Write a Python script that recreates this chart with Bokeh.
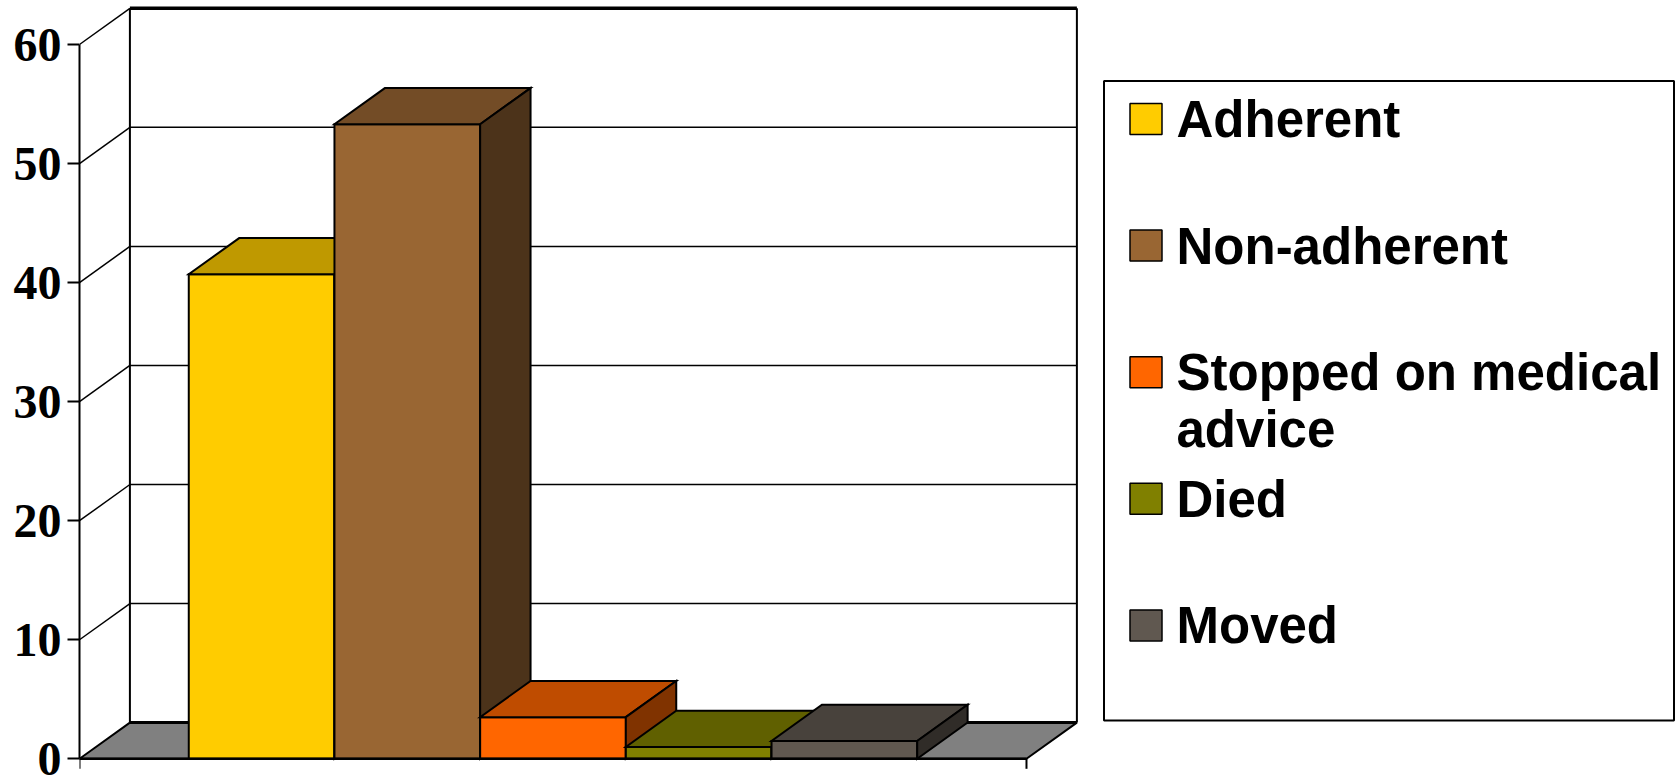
from bokeh.plotting import figure
from bokeh.models import Range1d, LinearAxis, FixedTicker, ColumnDataSource
from bokeh.embed import file_html
from bokeh.resources import INLINE
from bokeh.core.properties import value

# ---- data -------------------------------------------------------------
categories = ["Adherent", "Non-adherent", "Stopped on medical advice", "Died", "Moved"]
percent = [40.7, 53.3, 3.5, 1.0, 1.5]
legend_lines = [["Adherent"], ["Non-adherent"], ["Stopped on medical", "advice"], ["Died"], ["Moved"]]
y_ticks = [0, 10, 20, 30, 40, 50, 60]
face_colors = ["#FFCC00", "#996633", "#FF6600", "#808000", "#605850"]

# ---- geometry ---------------------------------------------------------
W, H = 1679, 778
LEFT = 79                 # width of the y-axis panel
Y0_PX = 758.3             # pixel row of value 0
PX_PER_VAL = 11.905       # pixels per percentage point
PX_PER_BAR = 145.69       # pixels per bar width
GAP = 0.75                # floor margin either side of the bar cluster (bar widths)
DX, DY = 0.346, 3.04      # oblique depth offset (bar widths, value units)


def shade(hex_color, k):
    r, g, b = (int(hex_color[i:i + 2], 16) for i in (1, 3, 5))
    return "#%02X%02X%02X" % (round(r * k), round(g * k), round(b * k))


# value -> pixel row: Y0_PX - v * PX_PER_VAL
x_range = Range1d(-GAP, -GAP + (W - LEFT) / PX_PER_BAR)
y_range = Range1d(-(H - Y0_PX) / PX_PER_VAL, Y0_PX / PX_PER_VAL)

p = figure(width=W, height=H, x_range=x_range, y_range=y_range,
           x_axis_type=None, y_axis_type=None,
           output_backend="svg", toolbar_location=None,
           min_border_left=LEFT, min_border_right=0,
           min_border_top=0, min_border_bottom=0,
           outline_line_color=None, background_fill_color="white",
           border_fill_color="white")

# pixel-based ranges for the legend box
p.extra_x_ranges = {"px": Range1d(LEFT, W)}
p.extra_y_ranges = {"py": Range1d(H, 0)}

n = len(categories)
x_left, x_right = -GAP, n + GAP
bx0, bx1 = x_left + DX, x_right + DX
top_val = max(y_ticks)

# side wall diagonals (10..60)
side_vals = y_ticks[1:]
p.segment(x0=[x_left] * len(side_vals), y0=side_vals,
          x1=[bx0] * len(side_vals), y1=[v + DY for v in side_vals],
          line_color="black", line_width=1.5)

# back wall gridlines (10..50)
grid_vals = y_ticks[1:-1]
p.segment(x0=[bx0] * len(grid_vals), y0=[v + DY for v in grid_vals],
          x1=[bx1] * len(grid_vals), y1=[v + DY for v in grid_vals],
          line_color="black", line_width=1.5)

# back wall edges
p.segment(x0=[bx0, bx1], y0=[DY, DY], x1=[bx0, bx1], y1=[top_val + DY] * 2,
          line_color="black", line_width=2)
p.line([bx0, bx1], [top_val + DY, top_val + DY], line_color="black", line_width=3.5)

# floor
p.patch([x_left, x_right, bx1, bx0], [0, 0, DY, DY],
        fill_color="#808080", line_color="black", line_width=2)
p.line([bx0, bx1], [DY, DY], line_color="black", line_width=3)

# 3-D bars: front, top and right faces, drawn left to right
xs, ys, fills = [], [], []
for i, (v, c) in enumerate(zip(percent, face_colors)):
    l, r = i, i + 1
    xs.append([l, r, r, l]);                 ys.append([0, 0, v, v]);                 fills.append(c)
    xs.append([l, r, r + DX, l + DX]);       ys.append([v, v, v + DY, v + DY]);       fills.append(shade(c, 0.75))
    xs.append([r, r + DX, r + DX, r]);       ys.append([0, DY, v + DY, v]);           fills.append(shade(c, 0.5))
src = ColumnDataSource(dict(xs=xs, ys=ys, fill=fills))
p.patches("xs", "ys", source=src, fill_color="fill", line_color="black",
          line_width=2, line_join="miter")

# category axis line and its end ticks
tick_len = 10 / PX_PER_VAL
p.line([x_left, x_right], [0, 0], line_color="black", line_width=2.5)
p.segment(x0=[x_left, x_right], y0=[0, 0], x1=[x_left, x_right], y1=[-tick_len] * 2,
          line_color="black", line_width=2)

# value axis
yaxis = LinearAxis(ticker=FixedTicker(ticks=y_ticks), bounds=(0, top_val))
yaxis.axis_line_width = 2
yaxis.major_tick_line_width = 2
yaxis.major_tick_out = 12
yaxis.major_tick_in = 0
yaxis.minor_tick_line_color = None
yaxis.major_label_standoff = 6
yaxis.major_label_text_font = "Liberation Serif"
yaxis.major_label_text_font_style = "bold"
yaxis.major_label_text_font_size = "48px"
yaxis.major_label_text_color = "black"
p.add_layout(yaxis, "left")

# legend
p.quad(left=[1103.5], right=[1673.5], top=[80.5], bottom=[720],
       fill_color="white", line_color="black", line_width=2,
       x_range_name="px", y_range_name="py")
sw_top0, pitch, line_gap = 103.0, 126.6, 56.6
sw_l, sw_r, tx = 1129.5, 1161.5, 1176
sw_tops = [sw_top0 + i * pitch for i in range(n)]
p.quad(left=[sw_l] * n, right=[sw_r] * n, top=sw_tops,
       bottom=[t + 31 for t in sw_tops], fill_color=face_colors,
       line_color="black", line_width=1.5, x_range_name="px", y_range_name="py")
tx_x, tx_y, tx_t = [], [], []
for i, lines in enumerate(legend_lines):
    for j, t in enumerate(lines):
        tx_x.append(tx); tx_y.append(sw_tops[i] + 16 + j * line_gap); tx_t.append(t)
p.text(x=tx_x, y=tx_y, text=tx_t, text_font=value("Liberation Sans"),
       text_font_style="bold", text_font_size="51px", text_color="black",
       text_baseline="middle", text_align="left",
       x_range_name="px", y_range_name="py")

open("out.html", "w").write(file_html(p, INLINE))
